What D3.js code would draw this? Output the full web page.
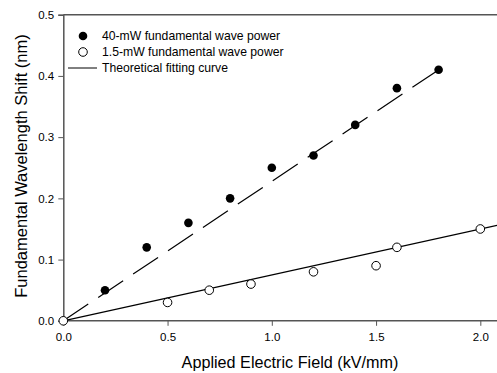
<!DOCTYPE html>
<html><head><meta charset="utf-8">
<script src="https://cdn.jsdelivr.net/npm/d3@7"></script>
<style>body{margin:0;background:#fff}svg{display:block}</style>
</head><body>
<svg id="c" width="497" height="373"></svg>
<script>
const fieldHigh = [0.2,0.4,0.6,0.8,1.0,1.2,1.4,1.6,1.8];
const shiftHigh = [0.05,0.12,0.16,0.20,0.25,0.27,0.32,0.38,0.41];
const fieldLow = [0.0,0.5,0.7,0.9,1.2,1.5,1.6,2.0];
const shiftLow = [0.0,0.03,0.05,0.06,0.08,0.09,0.12,0.15];
const fitHighX = [0,1.8];
const fitHighY = [0,0.41];
const fitLowX = [0,2.08];
const fitLowY = [0,0.156];
const xTicks = [0,0.5,1.0,1.5,2.0];
const yTicks = [0,0.1,0.2,0.3,0.4,0.5];
const legendLabels = ["40-mW fundamental wave power","1.5-mW fundamental wave power","Theoretical fitting curve"];

const svg = d3.select("#c");
const font = "Arial, 'Liberation Sans', sans-serif";
const x = d3.scaleLinear().domain([0,2.08]).range([63.3,497]);
const y = d3.scaleLinear().domain([0,0.5]).range([320.8,14.7]);

const axisColor = "#555";
svg.append("line").attr("x1",x(0)).attr("x2",497).attr("y1",y(0.5)).attr("y2",y(0.5))
  .attr("stroke",axisColor).attr("stroke-width",1.5);

const gx = svg.append("g").attr("transform",`translate(0,${y(0)})`)
  .call(d3.axisBottom(x).tickValues(xTicks).tickFormat(d3.format(".1f")).tickSizeOuter(0).tickSize(5));
const gy = svg.append("g").attr("transform",`translate(${x(0)},0)`)
  .call(d3.axisLeft(y).tickValues(yTicks).tickFormat(d3.format(".1f")).tickSizeOuter(0).tickSize(5));
[gx,gy].forEach(g=>{
  g.select(".domain").attr("stroke",axisColor).attr("stroke-width",1.5);
  g.selectAll(".tick line").attr("stroke",axisColor).attr("stroke-width",1);
  g.selectAll("text").attr("font-family",font).attr("font-size",11.5).attr("fill","#000");
});
gx.selectAll("text").attr("dy","1.05em");
gy.selectAll("text").attr("dx","-0.1em");
gx.select(".domain").attr("d",`M${x(0)},0H497`);

svg.append("text").attr("x",290).attr("y",368).attr("text-anchor","middle")
  .attr("font-family",font).attr("font-size",16.2).text("Applied Electric Field (kV/mm)");
svg.append("text").attr("transform",`translate(27,166) rotate(-90)`)
  .attr("text-anchor","middle").attr("font-family",font).attr("font-size",16.5)
  .text("Fundamental Wavelength Shift (nm)");

const line = d3.line().x(d=>x(d[0])).y(d=>y(d[1]));
svg.append("path").datum(d3.zip(fitHighX,fitHighY)).attr("d",line)
  .attr("fill","none").attr("stroke","#000").attr("stroke-width",1.2).attr("stroke-dasharray","30,12");
svg.append("path").datum(d3.zip(fitLowX,fitLowY)).attr("d",line)
  .attr("fill","none").attr("stroke","#000").attr("stroke-width",1.2);

svg.append("g").selectAll("circle").data(d3.zip(fieldHigh,shiftHigh)).join("circle")
  .attr("cx",d=>x(d[0])).attr("cy",d=>y(d[1])).attr("r",4.3).attr("fill","#000");
svg.append("g").selectAll("circle").data(d3.zip(fieldLow,shiftLow)).join("circle")
  .attr("cx",d=>x(d[0])).attr("cy",d=>y(d[1])).attr("r",4.3).attr("fill","#fff")
  .attr("stroke","#000").attr("stroke-width",1);

const lg = svg.append("g");
const rowY = [36,52,68];
lg.append("circle").attr("cx",83).attr("cy",rowY[0]).attr("r",4.3).attr("fill","#000");
lg.append("circle").attr("cx",83).attr("cy",rowY[1]).attr("r",4.3).attr("fill","#fff").attr("stroke","#000");
lg.append("line").attr("x1",68).attr("x2",97).attr("y1",rowY[2]).attr("y2",rowY[2]).attr("stroke","#000").attr("stroke-width",1);
legendLabels.forEach((t,i)=>{
  lg.append("text").attr("x",102).attr("y",rowY[i]).attr("dy","0.35em")
    .attr("font-family",font).attr("font-size",12.2).text(t);
});
</script>
</body></html>
